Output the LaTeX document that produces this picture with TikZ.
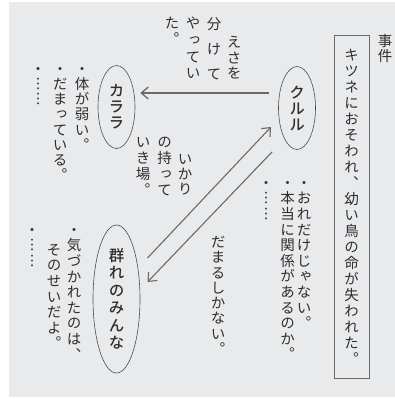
\documentclass[tikz,border=0pt]{standalone}
\usepackage{fontspec}
\setmainfont{Noto Sans CJK JP}[RawFeature=+vert,BoldFont={Noto Sans CJK JP Medium}]
\usepackage{tikz}
\usetikzlibrary{arrows.meta,shapes.geometric,positioning}
\tikzset{>/.tip={Straight Barb[length=7pt,width=12pt]}}
\definecolor{ink}{HTML}{2E2E2E}
\definecolor{haikei}{HTML}{E9EAEC}
\definecolor{sen}{HTML}{6A6A6A}
% one character per line, for vertical text
\ExplSyntaxOn
\NewDocumentCommand \tate { O{15.6pt} m }
  {
    \vbox:n
      {
        \skip_set:Nn \baselineskip {#1}
        \skip_set:Nn \lineskip {0pt}
        \dim_set:Nn \lineskiplimit {-100pt}
        \tl_map_inline:nn {#2} { \hbox_to_wd:nn {1em} { \hss ##1 \hss } }
      }
  }
\ExplSyntaxOff

\begin{document}
\begin{tikzpicture}[x=1pt,y=-1pt,font=\fontsize{14.5}{16}\selectfont,text=ink,
  col/.style={inner sep=0pt,anchor=north},
  hito/.style={ellipse,draw=ink!85,line width=0.6pt,inner sep=0pt,
    font=\fontsize{15.5}{16}\selectfont\bfseries}]
  \useasboundingbox (0,0) rectangle (395,399);
  \fill[haikei] (9,2) rectangle (395,397);

  % jiken
  \node(Jiken)[col] at (385,34){\tate[15.5pt]{事件}};
  \node(JikenBox)[draw=sen,line width=1pt,inner sep=0pt,anchor=north,
    minimum width=35pt,minimum height=343pt,font=\fontsize{14.5}{16}\selectfont]
    at (351.5,35){\tate[16pt]{キツネにおそわれ、幼い鳥の命が失われた。}};

  % hito
  \node(Kururu)[hito,minimum width=37pt,minimum height=83pt] at (297,108){\tate[16pt]{クルル}};
  \node(Karara)[hito,minimum width=37pt,minimum height=83pt] at (116.5,107){\tate[16pt]{カララ}};
  \node(Mure)[hito,minimum width=47pt,minimum height=148pt] at (116.5,299){\tate[17.5pt]{群れのみんな}};

  % kururu no kotoba
  \node(KuruA)[col] at (304,181){\tate{・おれだけじゃない。}};
  \node(KuruB)[col] at (287.5,181){\tate{・本当に関係があるのか。}};
  \node(KuruC)[col] at (266,181){\tate{・︙︙}};

  % karara no kotoba
  \node(KaraA)[col] at (82,67){\tate[15.2pt]{・体が弱い。}};
  \node(KaraB)[col] at (60,67){\tate[15.2pt]{・だまっている。}};
  \node(KaraC)[col] at (38,67){\tate[15.2pt]{・︙︙}};

  % mure no kotoba
  \node(MureA)[col] at (74,228){\tate{・気づかれたのは、}};
  \node(MureB)[col] at (54,244){\tate{そのせいだよ。}};
  \node(MureC)[col] at (32,228){\tate{・︙︙}};

  % arrows
  \draw[->,sen,line width=1.3pt] ([yshift=15pt,xshift=-9pt]Kururu.west) -- ([yshift=14pt,xshift=5pt]Karara.east);
  \draw[->,sen,line width=1.1pt] ([shift={(31,-41)}]Mure.center) -- ([shift={(-26,19)}]Kururu.center);
  \draw[->,sen,line width=1.1pt] ([shift={(-25,44)}]Kururu.center) -- ([shift={(31,-17)}]Mure.center);

  % labels on arrows
  \node(EsaA)[col] at (234,36){\tate[15.5pt]{えさを}};
  \node(EsaB)[col] at (214,17){\tate[25pt]{分けて}};
  \node(EsaC)[col] at (193,17){\tate[16.7pt]{やってい}};
  \node(EsaD)[col] at (172,17){\tate[15.5pt]{た。}};
  \node(IkaA)[col] at (185,154){\tate[15pt]{いかり}};
  \node(IkaB)[col] at (164.5,137){\tate[16pt]{の持って}};
  \node(IkaC)[col] at (143,137){\tate[16pt]{いき場。}};
  \node(Damaru)[col] at (218,236){\tate[15.3pt]{だまるしかない。}};
\end{tikzpicture}
\end{document}
